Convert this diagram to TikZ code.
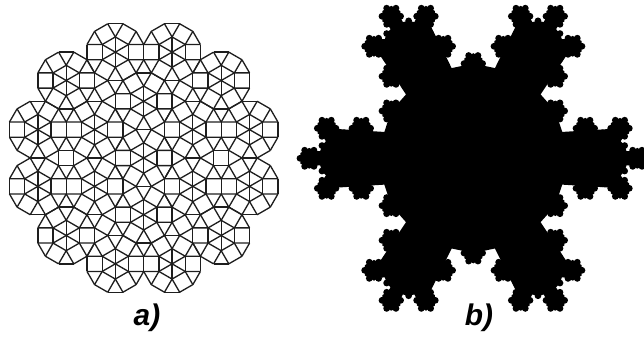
\documentclass[tikz,border=0pt]{standalone}
\usepackage{fontspec}
\setmainfont{Liberation Sans}
\definecolor{TILE-LINE}{RGB}{30, 30, 30}
\tikzset{
  tile/.style={draw=TILE-LINE, line width=0.75pt, line join=round},
  caption/.style={font=\fontsize{17}{20}\selectfont\bfseries\itshape, inner sep=0pt}
}
% one wheel: six triangles, six squares, six triangles
\newcommand{\wheel}{
  \foreach \k in {0,...,5} {
    \draw[tile] (0,0) -- (30+60*\k:1);
    \draw[tile] (30+60*\k:1) -- (90+60*\k:1);
    \draw[tile] (30+60*\k:1) -- (15+60*\k:1.932);
    \draw[tile] (30+60*\k:1) -- (45+60*\k:1.932);
  }
  \foreach \k in {0,...,11} {
    \draw[tile] (15+30*\k:1.932) -- (45+30*\k:1.932);
  }
}
% flake: body, six arms, six small bumps in the gaps
\newcommand{\flake}[1]{
  \ifnum#1=0
    \fill (0,0) circle (1);
  \else
    \ifnum#1=1
      \fill (30:0.82) -- (90:0.82) -- (150:0.82) -- (210:0.82) -- (270:0.82) -- (330:0.82) -- cycle;
    \else
      \fill (-30:0.536) \foreach \ang in {0,60,...,300} {
        -- (\ang-16.5:0.525) -- (\ang-11.55:0.847) -- (\ang+11.55:0.847)
        -- (\ang+16.5:0.525) -- (\ang+30:0.536)
      } -- cycle;
    \fi
    \foreach \ang in {0,60,...,300} {
      \begin{scope}[shift={(\ang:0.732)},scale=0.268]
        \flake{\numexpr#1-1\relax}
      \end{scope}
    }
    \ifnum#1>1
      \foreach \ang in {30,90,...,330} {
        \begin{scope}[shift={(\ang:0.536)},scale=0.0718]
          \flake{\numexpr#1-2\relax}
        \end{scope}
      }
    \fi
  \fi
}
\begin{document}
\begin{tikzpicture}[x=0.02cm,y=0.02cm]
  \useasboundingbox (0,0) rectangle (644,337);
  \clip (0,0) rectangle (644,337);

  % Tiling a)
  \begin{scope}[shift={(143.7,179)},scale=15.2]
    \wheel
    \foreach \ang in {30,90,...,330} {
      \begin{scope}[shift={(\ang:3.732)}]
        \wheel
      \end{scope}
    }
    \foreach \ang in {15,45,...,345} {
      \begin{scope}[shift={(\ang:7.21)}]
        \wheel
      \end{scope}
    }
    % Squares left between the wheels
    \foreach \ang in {0,60,...,300} {
      \draw[tile, shift={(\ang:5.098)}, rotate=\ang] (-0.5,-0.5) rectangle (0.5,0.5);
    }
  \end{scope}
  \node[caption] (lblA) at (147,19) {a)};

  % Fractal b)
  \begin{scope}[shift={(473.3,178.7)},scale=176.7]
    \flake{3}
  \end{scope}
  \node[caption] (lblB) at (479,19) {b)};
\end{tikzpicture}
\end{document}
